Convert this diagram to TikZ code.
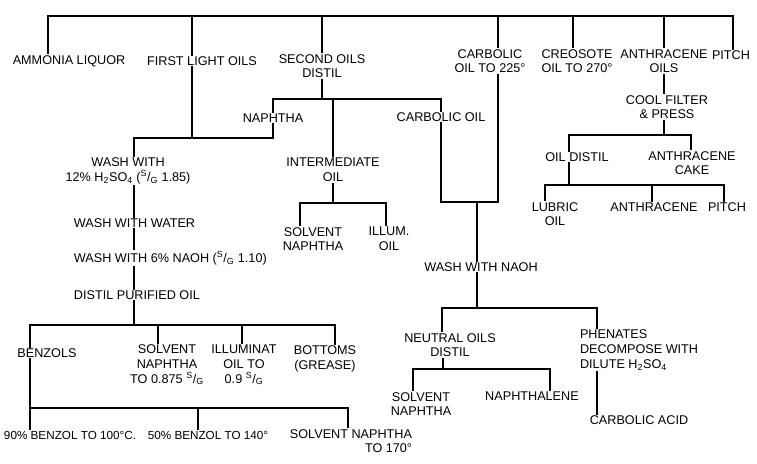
\documentclass[tikz,border=0pt]{standalone}
\usepackage{fontspec}
\setmainfont{Liberation Sans}
\usetikzlibrary{calc}
\tikzset{
    cut/.style={font=\fontsize{10.8}{12.5}\selectfont, inner sep=1.5pt, align=center},
    pipe/.style={line width=1.8pt, line cap=rect}
}
\newcommand{\sgr}{\textsuperscript{S}/\textsubscript{G}}
\newcommand{\hso}{H\textsubscript{2}SO\textsubscript{4}}

\begin{document}
\begin{tikzpicture}[x=0.03cm, y=-0.03cm]
  \useasboundingbox (0,0) rectangle (757,463);
  \node[cut] (ammonia) at (69,61) {AMMONIA LIQUOR};
  \node[cut] (light) at (202,61) {FIRST LIGHT OILS};
  \node[cut] (second) at (322,66) {SECOND OILS\\DISTIL};
  \node[cut] (carb225) at (490,61) {CARBOLIC\\OIL TO 225°};
  \node[cut] (creosote) at (577,61) {CREOSOTE\\OIL TO 270°};
  \node[cut] (anthoils) at (664,61) {ANTHRACENE\\OILS};
  \node[cut] (pitch) at (731,55) {PITCH};
  \node[cut] (naphtha) at (273,118) {NAPHTHA};
  \node[cut] (interm) at (333,170) {INTERMEDIATE\\OIL};
  \node[cut] (carbolic) at (441,117) {CARBOLIC OIL};
  \node[cut] (wash1) at (128,171) {WASH WITH\\12\% \hso{} (\sgr{} 1.85)};
  \node[cut, anchor=west] (water) at (72,223) {WASH WITH WATER};
  \node[cut, anchor=west] (wash6) at (72,258) {WASH WITH 6\% NAOH (\sgr{} 1.10)};
  \node[cut, anchor=west] (purified) at (72,295) {DISTIL PURIFIED OIL};
  \node[cut] (benzols) at (47,353) {BENZOLS};
  \node[cut] (solnaph1) at (167,365) {SOLVENT\\NAPHTHA\\TO 0.875 \sgr};
  \node[cut] (illum1) at (244,365) {ILLUMINAT\\OIL TO\\0.9 \sgr};
  \node[cut] (bottoms) at (325,359) {BOTTOMS\\(GREASE)};
  \node[cut, font=\fontsize{10}{12}\selectfont, anchor=west] (b90) at (2,435) {90\% BENZOL TO 100°C.};
  \node[cut, font=\fontsize{10}{12}\selectfont] (b50) at (208,435) {50\% BENZOL TO 140°};
  \node[cut, align=right] (solnaph2) at (351,441) {SOLVENT NAPHTHA\\TO 170°};
  \node[cut] (solnaph3) at (313,239) {SOLVENT\\NAPHTHA};
  \node[cut] (illum2) at (389,239) {ILLUM.\\OIL};
  \node[cut] (washnaoh) at (481,267) {WASH WITH NAOH};
  \node[cut] (neutral) at (450,345) {NEUTRAL OILS\\DISTIL};
  \node[cut] (solnaph4) at (421,404) {SOLVENT\\NAPHTHA};
  \node[cut] (naphthalene) at (532,396) {NAPHTHALENE};
  \node[cut, align=left, anchor=west] (phenates) at (578,350) {PHENATES\\DECOMPOSE WITH\\DILUTE \hso};
  \node[cut] (carbacid) at (639,420) {CARBOLIC ACID};
  \node[cut] (cool) at (667,107) {COOL FILTER\\\& PRESS};
  \node[cut] (oildistil) at (577,157) {OIL DISTIL};
  \node[cut] (cake) at (692,163) {ANTHRACENE\\CAKE};
  \node[cut] (lubric) at (555,214) {LUBRIC\\OIL};
  \node[cut] (anthracene) at (654,207) {ANTHRACENE};
  \node[cut] (pitch2) at (727,207) {PITCH};

  \coordinate (tarL) at (48,16);
  \coordinate (tarR) at (733,16);
  \coordinate (lightJ) at (134,138);
  \coordinate (spine) at (134,0);
  \coordinate (purJ) at (30,325);
  \coordinate (benJ) at (30,408);
  \coordinate (carbJ) at (477,202);
  \coordinate (naohJ) at (442,308);

  \draw[pipe] (tarL) -- (tarR);
  \foreach \x/\n in {48/ammonia, 192/light, 322/second, 498/carb225, 573/creosote, 664/anthoils, 733/pitch}
    \draw[pipe] (\x,16) -- (\x,16 |- \n.north);

  \draw[pipe] (second.south) -- (322,99);
  \draw[pipe] (naphtha.north -| 273,0) -- (273,99) -- (441,99) -- (carbolic.north -| 441,0);
  \draw[pipe] (333,99) -- (interm.north -| 333,0);

  \draw[pipe] (light.south -| 192,0) -- (192,138);
  \draw[pipe] (naphtha.south -| 273,0) |- (lightJ) -- (wash1.north -| spine);
  \draw[pipe] (wash1.south -| spine) -- (water.north -| spine);
  \draw[pipe] (water.south -| spine) -- (wash6.north -| spine);
  \draw[pipe] (wash6.south -| spine) -- (purified.north -| spine);
  \draw[pipe] (purified.south -| spine) -- (134,325);
  \draw[pipe] (benzols.north -| purJ) |- (335,325) -- (bottoms.north -| 335,0);
  \draw[pipe] (158,325) -- (solnaph1.north -| 158,0);
  \draw[pipe] (242,325) -- (illum1.north -| 242,0);
  \draw[pipe] (benzols.south -| benJ) -- (benJ) -- (348,408) -- (solnaph2.north -| 348,0);
  \draw[pipe] (benJ) -- (b90.north -| benJ);
  \draw[pipe] (198,408) -- (b50.north -| 198,0);

  \draw[pipe] (interm.south -| 333,0) -- (333,203);
  \draw[pipe] (solnaph3.north -| 300,0) |- (386,203) -- (illum2.north -| 386,0);

  \draw[pipe] (carbolic.south -| 441,0) |- (498,202) -- (carb225.south -| 498,0);
  \draw[pipe] (carbJ) -- (washnaoh.north -| carbJ);
  \draw[pipe] (washnaoh.south -| carbJ) -- (477,308);
  \draw[pipe] (neutral.north -| naohJ) |- (597,308) -- (phenates.north -| 597,0);
  \draw[pipe] (neutral.south -| 443,0) -- (443,369);
  \draw[pipe] (solnaph4.north -| 413,0) |- (550,369) -- (naphthalene.north -| 550,0);
  \draw[pipe] (phenates.south -| 597,0) -- (carbacid.north -| 597,0);

  \draw[pipe] (anthoils.south -| 664,0) -- (cool.north -| 664,0);
  \draw[pipe] (cool.south -| 664,0) -- (664,135);
  \draw[pipe] (oildistil.north -| 569,0) |- (691,135) -- (cake.north -| 691,0);
  \draw[pipe] (oildistil.south -| 569,0) -- (569,185);
  \draw[pipe] (lubric.north -| 545,0) |- (724,185) -- (pitch2.north -| 724,0);
  \draw[pipe] (652,185) -- (anthracene.north -| 652,0);
\end{tikzpicture}
\end{document}
